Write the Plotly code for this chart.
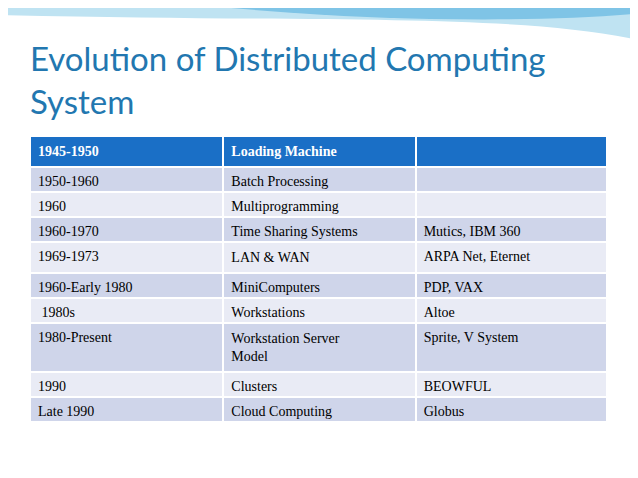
import plotly.graph_objects as go

header = ["1945-1950", "Loading Machine", ""]
periods = ["1950-1960", "1960", "1960-1970", "1969-1973", "1960-Early 1980",
           " 1980s", "1980-Present", "1990", "Late 1990"]
stages = ["Batch Processing", "Multiprogramming", "Time Sharing Systems", "LAN &amp; WAN",
          "MiniComputers", "Workstations", "Workstation Server<br>Model", "Clusters",
          "Cloud Computing"]
examples = ["", "", "Mutics, IBM 360", "ARPA Net, Eternet", "PDP, VAX", "Altoe",
            "Sprite, V System", "BEOWFUL", "Globus"]

row_colors = ["#cfd5ea" if i % 2 == 0 else "#e9ebf5" for i in range(len(periods))]

fig = go.Figure()
fig.add_trace(go.Table(
    domain=dict(x=[22 / 638, 599 / 638], y=[0.0, 1 - 128 / 478]),
    columnwidth=[193, 192, 191],
    header=dict(values=[f"<b>{h}</b>" for h in header],
                fill_color="#1a6fc6", line=dict(color="white", width=2),
                font=dict(family="Liberation Serif", size=14, color="white"),
                align="left", height=23),
    cells=dict(values=[periods, stages, examples],
               fill_color=[row_colors] * 3, line=dict(color="white", width=2),
               font=dict(family="Liberation Serif", size=14, color="black"),
               align="left", height=25),
))

# light blue decorative band at the top
fig.add_shape(type="path", xref="paper", yref="paper",
              path="M 0 1 L 1 1 L 1 0.93 C 0.8 0.99 0.5 0.97 0 0.985 Z",
              fillcolor="#bfe3f2", line=dict(width=0), layer="below")
fig.add_shape(type="path", xref="paper", yref="paper",
              path="M 0.35 1 C 0.6 0.97 0.85 0.97 1 0.99 L 1 1 Z",
              fillcolor="#7fc4e6", line=dict(width=0), layer="below")

fig.add_annotation(text="Evolution of Distributed Computing<br>System", x=20 / 638, y=1 - 28 / 478,
                   xref="paper", yref="paper", xanchor="left", yanchor="top", align="left",
                   showarrow=False, font=dict(family="Lato", size=33, color="#2277b0"))

fig.update_layout(width=638, height=478, margin=dict(l=0, r=0, t=0, b=0),
                  paper_bgcolor="white", plot_bgcolor="white")
fig.write_html("out.html")
